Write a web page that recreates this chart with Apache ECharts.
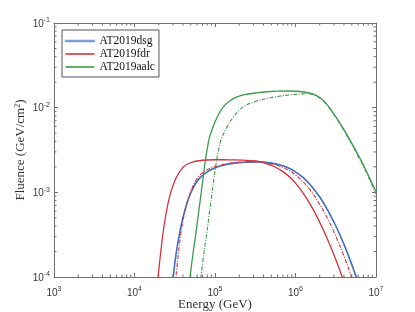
<!DOCTYPE html>
<html><head><meta charset="utf-8">
<script src="https://cdn.jsdelivr.net/npm/echarts@6/dist/echarts.min.js"></script>
<style>html,body{margin:0;padding:0;background:#fff}#c{width:415px;height:312px}</style>
</head><body><div id="c"></div>
<script>
// Tick values / labels
const xTicks = [1e3, 1e4, 1e5, 1e6, 1e7];
const yTicks = [1e-4, 1e-3, 1e-2, 1e-1];
const legendNames = ['AT2019dsg', 'AT2019fdr', 'AT2019aalc'];

// AT2019dsg (solid, blue)
const dsgE = [2.88e4, 3.02e4, 3.31e4, 3.63e4, 3.98e4, 4.47e4, 5.01e4, 5.62e4, 6.31e4, 7.08e4, 7.94e4, 8.91e4, 1.0e5, 1.26e5, 1.58e5, 2.0e5, 2.51e5, 3.16e5, 3.98e5, 5.01e5, 6.31e5, 7.94e5, 1.0e6, 1.26e6, 1.58e6, 2.0e6, 2.51e6, 3.16e6, 3.98e6, 5.01e6, 6.31e6];
const dsgF = [6.5e-5, 1.0e-4, 1.97e-4, 3.28e-4, 4.92e-4, 7.32e-4, 9.87e-4, 1.229e-3, 1.436e-3, 1.601e-3, 1.736e-3, 1.847e-3, 1.941e-3, 2.087e-3, 2.185e-3, 2.244e-3, 2.272e-3, 2.29e-3, 2.272e-3, 2.213e-3, 2.113e-3, 1.961e-3, 1.748e-3, 1.479e-3, 1.179e-3, 8.82e-4, 6.17e-4, 4.03e-4, 2.46e-4, 1.40e-4, 7.4e-5];

// AT2019fdr (solid, red)
const fdrE = [1.86e4, 1.96e4, 2.14e4, 2.34e4, 2.57e4, 2.82e4, 3.09e4, 3.39e4, 3.72e4, 4.07e4, 4.57e4, 5.25e4, 6.31e4, 7.94e4, 1.0e5, 1.26e5, 1.58e5, 2.19e5, 2.75e5, 3.47e5, 4.37e5, 5.50e5, 6.92e5, 8.71e5, 1.10e6, 1.38e6, 1.74e6, 2.19e6, 2.75e6, 3.47e6, 4.37e6];
const fdrF = [6.0e-5, 1.0e-4, 2.14e-4, 4.17e-4, 6.92e-4, 1.0e-3, 1.288e-3, 1.567e-3, 1.799e-3, 2.004e-3, 2.163e-3, 2.28e-3, 2.36e-3, 2.41e-3, 2.427e-3, 2.427e-3, 2.418e-3, 2.40e-3, 2.37e-3, 2.317e-3, 2.188e-3, 2.007e-3, 1.768e-3, 1.479e-3, 1.152e-3, 8.42e-4, 5.76e-4, 3.68e-4, 2.24e-4, 1.275e-4, 6.8e-5];

// AT2019fdr (dash-dot, red)
const fdrAltE = [3.09e4, 3.27e4, 3.63e4, 3.98e4, 4.47e4, 5.01e4, 5.62e4, 6.31e4, 7.08e4, 7.94e4, 8.91e4, 1.0e5, 1.26e5, 1.58e5, 2.0e5, 2.82e5, 3.55e5, 4.47e5, 5.62e5, 7.08e5, 8.91e5, 1.12e6, 1.41e6, 1.78e6, 2.24e6, 2.82e6, 3.55e6, 4.47e6, 5.62e6];
const fdrAltF = [5.5e-5, 1.0e-4, 2.51e-4, 4.57e-4, 7.41e-4, 1.035e-3, 1.318e-3, 1.549e-3, 1.718e-3, 1.841e-3, 1.941e-3, 2.018e-3, 2.138e-3, 2.213e-3, 2.265e-3, 2.307e-3, 2.272e-3, 2.213e-3, 2.113e-3, 1.961e-3, 1.748e-3, 1.462e-3, 1.161e-3, 8.61e-4, 5.96e-4, 3.89e-4, 2.34e-4, 1.33e-4, 7.1e-5];

// AT2019aalc (solid, green)
const aalcE = [4.62e4, 4.90e4, 5.37e4, 5.89e4, 6.31e4, 6.81e4, 7.24e4, 7.76e4, 8.51e4, 9.48e4, 1.07e5, 1.26e5, 1.51e5, 1.85e5, 2.40e5, 3.28e5, 4.47e5, 5.82e5, 7.94e5, 1.0e6, 1.26e6, 1.66e6, 2.0e6, 2.40e6, 2.94e6, 3.72e6, 4.74e6, 5.75e6, 6.95e6, 8.32e6, 1.0e7];
const aalcF = [6.3e-5, 1.0e-4, 2.0e-4, 3.72e-4, 6.17e-4, 1.072e-3, 1.698e-3, 2.723e-3, 4.395e-3, 5.957e-3, 7.80e-3, 1.014e-2, 1.194e-2, 1.334e-2, 1.432e-2, 1.496e-2, 1.542e-2, 1.567e-2, 1.574e-2, 1.563e-2, 1.531e-2, 1.445e-2, 1.318e-2, 1.122e-2, 8.61e-3, 6.17e-3, 4.17e-3, 2.985e-3, 2.113e-3, 1.479e-3, 1.023e-3];

// AT2019aalc (dash-dot, green)
const aalcAltE = [6.31e4, 6.68e4, 7.33e4, 8.04e4, 8.61e4, 9.29e4, 9.89e4, 1.06e5, 1.16e5, 1.29e5, 1.53e5, 1.82e5, 2.24e5, 2.82e5, 3.61e5, 5.01e5, 7.08e5, 1.0e6, 1.26e6, 1.66e6, 2.0e6, 2.40e6, 2.94e6, 3.72e6, 4.74e6, 5.75e6, 6.95e6, 8.32e6, 1.0e7];
const aalcAltF = [6.3e-5, 1.0e-4, 2.0e-4, 3.72e-4, 6.17e-4, 1.072e-3, 1.66e-3, 2.57e-3, 3.89e-3, 5.01e-3, 6.76e-3, 8.51e-3, 1.023e-2, 1.135e-2, 1.225e-2, 1.318e-2, 1.387e-2, 1.436e-2, 1.459e-2, 1.429e-2, 1.303e-2, 1.104e-2, 8.47e-3, 6.03e-3, 4.06e-3, 2.884e-3, 2.042e-3, 1.413e-3, 9.55e-4];

const BLUE = '#3b6fc1', RED = '#d8303a', GREEN = '#3c9a4c';
const AX = '#707070';
const serif = '"Liberation Serif", "DejaVu Serif", serif';
const sans = '"Liberation Sans", Arial, sans-serif';

const pairs = (E, F) => E.map((e, i) => [e, F[i]]);
const xMin = xTicks[0], xMax = xTicks[xTicks.length - 1];
const yMin = yTicks[0], yMax = yTicks[yTicks.length - 1];

// minor tick positions (2..9 within each decade)
const minorX = [], minorY = [];
for (let k = 3; k < 7; k++) for (let m = 2; m <= 9; m++) minorX.push([m * Math.pow(10, k), yMin]);
for (let k = -4; k < -1; k++) for (let m = 2; m <= 9; m++) minorY.push([xMin, m * Math.pow(10, k)]);

const expLabel = v => '{b|10}{s|' + Math.round(Math.log10(v)) + '}';
const labelRich = {
  b: { fontSize: 10, fontFamily: sans, color: '#3a3a3a', verticalAlign: 'bottom', lineHeight: 12 },
  s: { fontSize: 7, fontFamily: sans, color: '#3a3a3a', verticalAlign: 'top', lineHeight: 7 }
};

function lineSeries(name, E, F, color, width, dashed) {
  return {
    name, type: 'line', data: pairs(E, F), showSymbol: false, symbol: 'none',
    smooth: 0.3, clip: true, silent: true,
    lineStyle: { color, width, type: dashed ? [4, 1.5, 1, 1.5] : 'solid' },
    itemStyle: { color }
  };
}

const chart = echarts.init(document.getElementById('c'), null, { renderer: 'canvas' });
chart.setOption({
  animation: false,
  backgroundColor: '#fff',
  grid: { left: 54, right: 39, top: 23, bottom: 35, containLabel: false, outerBoundsMode: 'none' },
  legend: {
    data: [
      { name: legendNames[0], itemStyle: { color: '#6f95d4', borderColor: '#6f95d4', borderWidth: 0.8 } },
      { name: legendNames[1] },
      { name: legendNames[2] }
    ],
    orient: 'vertical', left: 62, top: 30,
    itemWidth: 29, itemHeight: 1.6, itemGap: 1, icon: 'rect',
    padding: [5, 4, 4, 3],
    borderColor: '#555', borderWidth: 1, backgroundColor: '#fff',
    textStyle: { fontFamily: serif, fontSize: 11.5, color: '#111' }
  },
  xAxis: [{
    type: 'log', logBase: 10, min: xMin, max: xMax, interval: 1,
    name: 'Energy (GeV)', nameLocation: 'middle', nameGap: 21, nameMoveOverlap: false,
    nameTextStyle: { fontFamily: serif, fontSize: 13, color: '#333' },
    axisLine: { show: true, lineStyle: { color: AX, width: 1 } },
    axisTick: { show: true, inside: true, length: 4, lineStyle: { color: AX } },
    minorTick: { show: false },
    splitLine: { show: false },
    axisLabel: { margin: 9, formatter: expLabel, rich: labelRich }
  }, {
    type: 'log', logBase: 10, min: xMin, max: xMax, interval: 1, position: 'top',
    axisLine: { show: true, lineStyle: { color: AX, width: 1 } },
    axisTick: { show: true, inside: true, length: 4, lineStyle: { color: AX } },
    axisLabel: { show: false }, splitLine: { show: false }
  }],
  yAxis: [{
    type: 'log', logBase: 10, min: yMin, max: yMax, interval: 1,
    name: 'Fluence (GeV/cm{sup|2})', nameLocation: 'middle', nameGap: 27, nameRotate: 90, nameMoveOverlap: false,
    nameTextStyle: { fontFamily: serif, fontSize: 13, color: '#333',
      rich: { sup: { fontFamily: serif, fontSize: 8, color: '#333', verticalAlign: 'top', lineHeight: 8 } } },
    axisLine: { show: true, lineStyle: { color: AX, width: 1 } },
    axisTick: { show: true, inside: true, length: 4, lineStyle: { color: AX } },
    splitLine: { show: false },
    axisLabel: { margin: 4, formatter: expLabel, rich: labelRich }
  }, {
    type: 'log', logBase: 10, min: yMin, max: yMax, interval: 1, position: 'right',
    axisLine: { show: true, lineStyle: { color: AX, width: 1 } },
    axisTick: { show: true, inside: true, length: 4, lineStyle: { color: AX } },
    axisLabel: { show: false }, splitLine: { show: false }
  }],
  series: [
    lineSeries('AT2019dsg', dsgE, dsgF, BLUE, 1.6, false),
    lineSeries('AT2019fdr', fdrE, fdrF, RED, 1.3, false),
    lineSeries('AT2019fdr alt', fdrAltE, fdrAltF, RED, 1.1, true),
    lineSeries('AT2019aalc', aalcE, aalcF, GREEN, 1.3, false),
    lineSeries('AT2019aalc alt', aalcAltE, aalcAltF, GREEN, 1.1, true),
    {
      type: 'custom', silent: true, data: minorX, encode: { x: 0, y: 1 }, clip: false,
      renderItem(params, api) {
        const v = api.value(0);
        const b = api.coord([v, yMin]), t = api.coord([v, yMax]);
        const st = { stroke: AX, lineWidth: 1 };
        return { type: 'group', children: [
          { type: 'line', shape: { x1: b[0], y1: b[1], x2: b[0], y2: b[1] - 2.5 }, style: st },
          { type: 'line', shape: { x1: t[0], y1: t[1], x2: t[0], y2: t[1] + 2.5 }, style: st }
        ] };
      }
    },
    {
      type: 'custom', silent: true, data: minorY, encode: { x: 0, y: 1 }, clip: false,
      renderItem(params, api) {
        const v = api.value(1);
        const l = api.coord([xMin, v]), r = api.coord([xMax, v]);
        const st = { stroke: AX, lineWidth: 1 };
        return { type: 'group', children: [
          { type: 'line', shape: { x1: l[0], y1: l[1], x2: l[0] + 2.5, y2: l[1] }, style: st },
          { type: 'line', shape: { x1: r[0], y1: r[1], x2: r[0] - 2.5, y2: r[1] }, style: st }
        ] };
      }
    }
  ]
});
</script>
</body></html>
